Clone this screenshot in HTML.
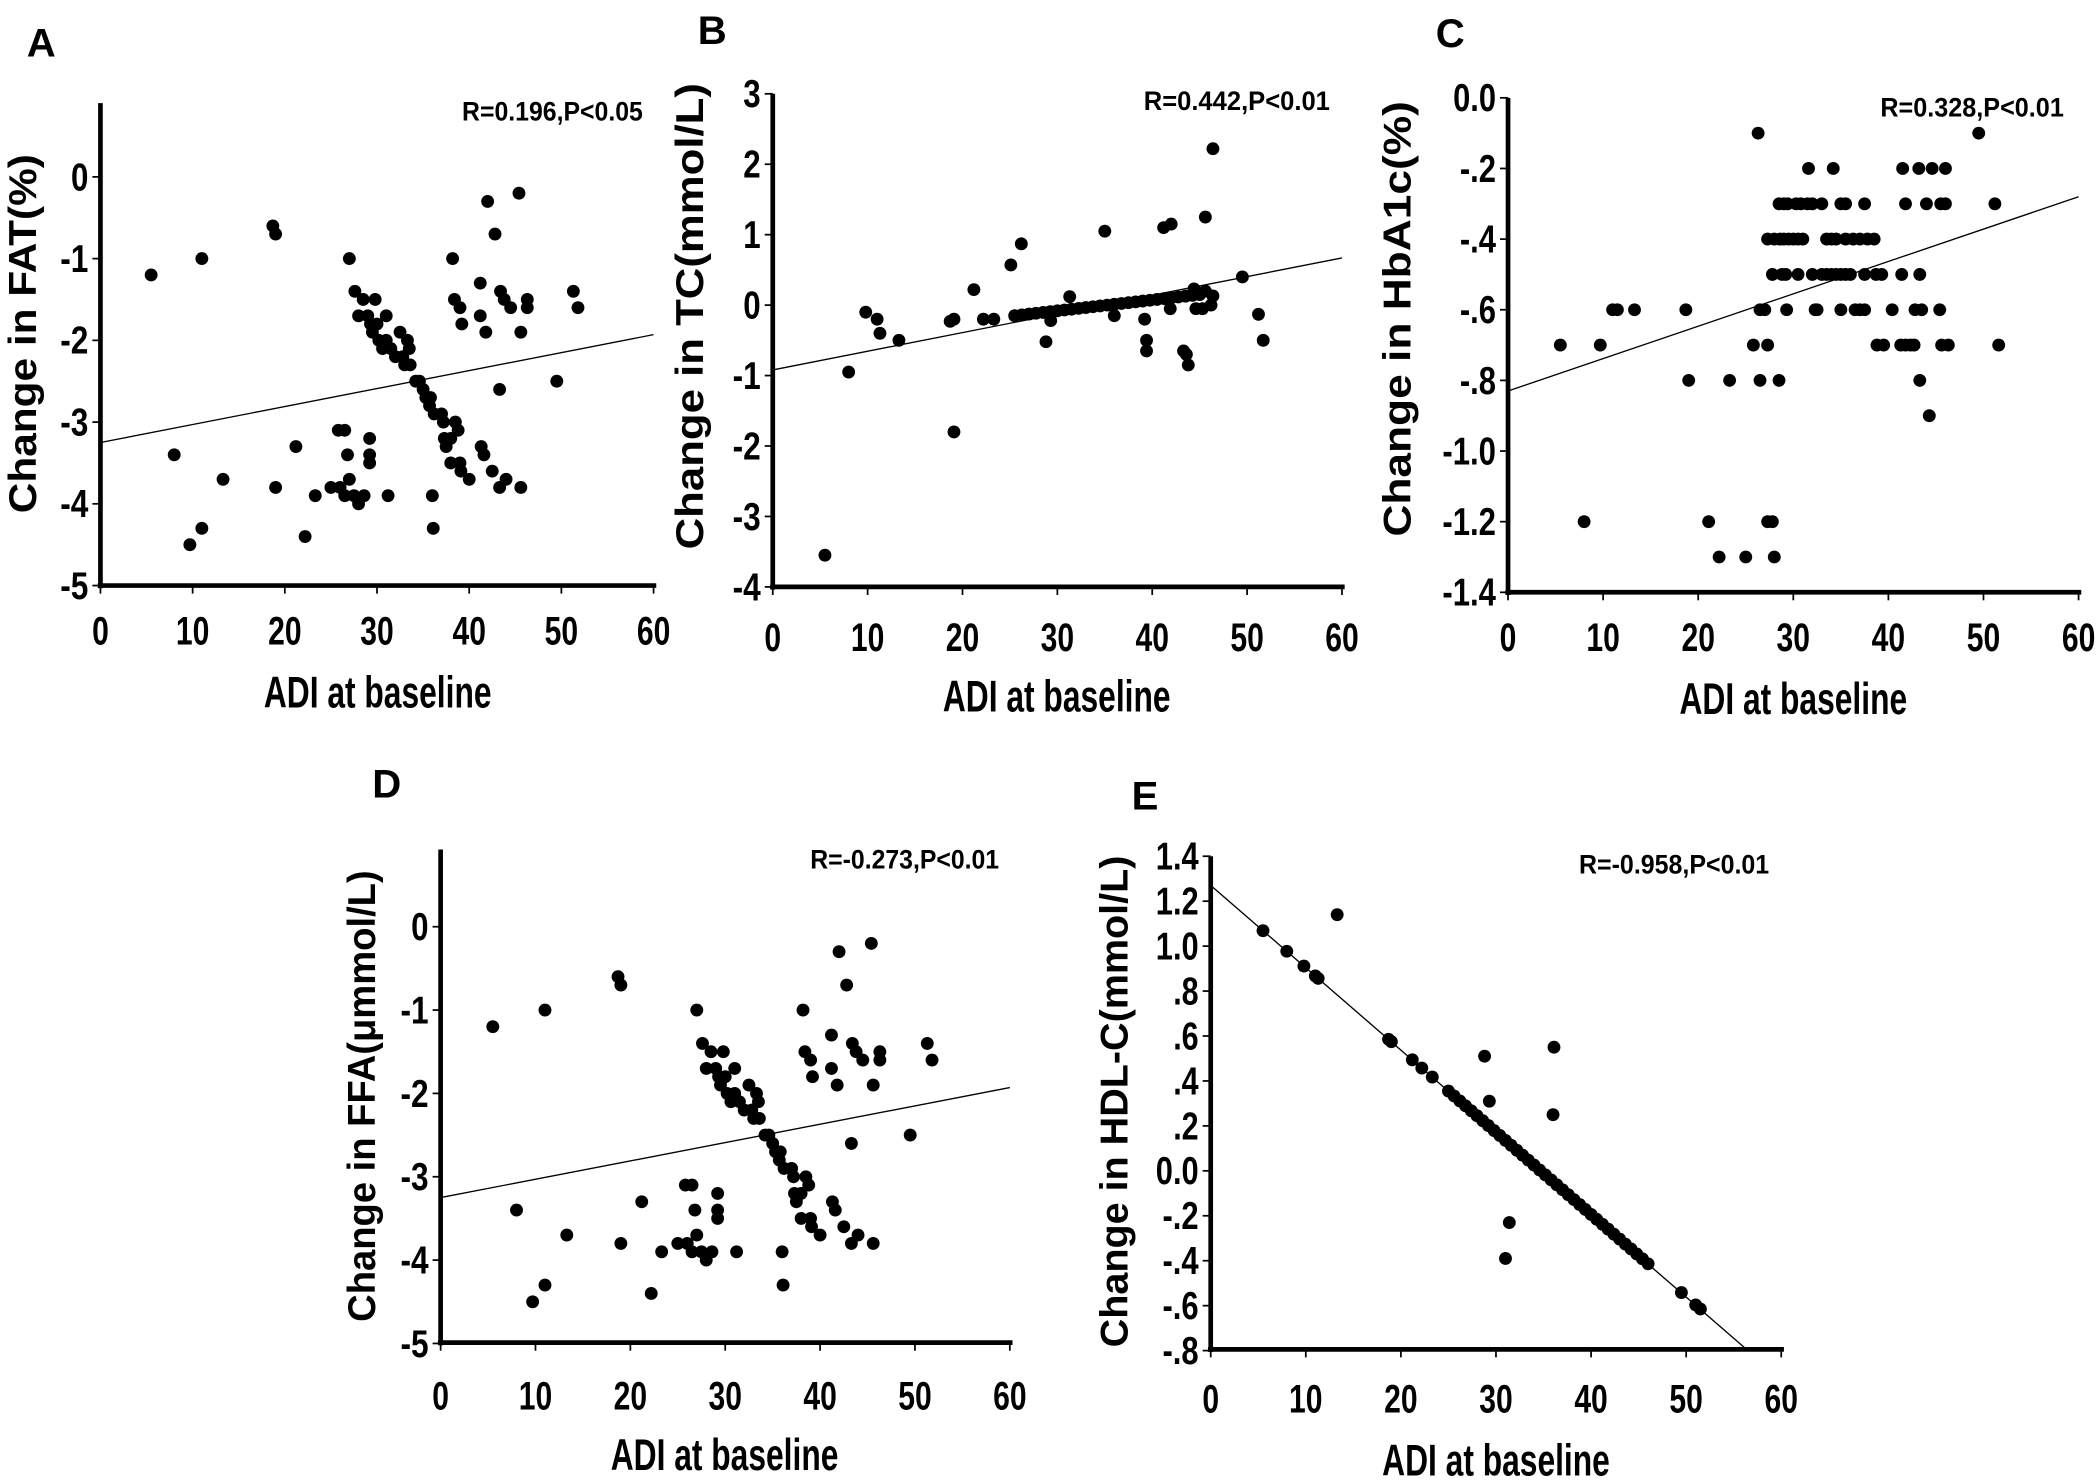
<!DOCTYPE html>
<html><head><meta charset="utf-8"><style>
html,body{margin:0;padding:0;background:#fff;}
svg{display:block;}
text{font-family:"Liberation Sans",Arial,sans-serif;font-weight:bold;fill:#000;}
</style></head><body>
<svg id="s" width="2100" height="1482" viewBox="0 0 1568 1106" preserveAspectRatio="none" xmlns="http://www.w3.org/2000/svg">
<rect width="1568" height="1106" fill="#fff"/>
<text x="20" y="42" font-size="30">A</text>
<text x="521" y="33" font-size="30">B</text>
<text x="1072" y="35" font-size="30">C</text>
<text x="278" y="595" font-size="30">D</text>
<text x="845" y="604" font-size="30">E</text>
</svg>
<script>
var NS="http://www.w3.org/2000/svg",S=document.getElementById('s');
function el(t,a,txt){var e=document.createElementNS(NS,t);for(var k in a)e.setAttribute(k,a[k]);if(txt!==undefined)e.textContent=txt;S.appendChild(e);return e;}
var A=[[5.5,-1.2],[11,-1],[18.7,-0.6],[19,-0.7],[27,-1],[8,-3.4],[13.3,-3.7],[11,-4.3],[9.7,-4.5],[19,-3.8],[21.2,-3.3],[22.2,-4.4],[23.3,-3.9],[25,-3.8],[25.8,-3.1],[26.5,-3.1],[26.8,-3.4],[26,-3.8],[26.5,-3.9],[27,-3.7],[27.5,-3.9],[28,-4],[28.6,-3.9],[29.2,-3.2],[29.2,-3.4],[29.2,-3.5],[31.2,-3.9],[36,-3.9],[36.1,-4.3],
[27.6,-1.4],[28,-1.7],[28.5,-1.5],[29,-1.7],[29.3,-1.8],[29.5,-1.9],[30,-1.8],[29.8,-1.5],[30.2,-2],[30.6,-2.1],[31,-1.7],[31,-2],[31.5,-2.1],[32,-2.2],[32.5,-1.9],[32.8,-2.2],[33,-2.3],[33.3,-2],[33.5,-2.1],[33.6,-2.3],[34.2,-2.5],[34.6,-2.5],[35,-2.6],[35.3,-2.7],[35.7,-2.8],[35.8,-2.7],[36.2,-2.9],[37,-2.9],[37.2,-3],[37.3,-3.2],[37.5,-3.3],[38,-3.2],[38.5,-3],[38.8,-3.1],[38,-3.5],[39,-3.5],[39.1,-3.6],[40,-3.7],[41.3,-3.3],[41.6,-3.4],[42.5,-3.6],[43.3,-3.8],[44,-3.7],[45.6,-3.8],
[38.2,-1],[38.4,-1.5],[39,-1.6],[39.2,-1.8],[41.2,-1.3],[41.2,-1.7],[41.8,-1.9],[42,-0.3],[42.8,-0.7],[43.4,-1.4],[43.8,-1.5],[44.5,-1.6],[45.4,-0.2],[45.6,-1.9],[46.3,-1.5],[46.3,-1.6],[49.5,-2.5],[43.3,-2.6],[51.3,-1.4],[51.8,-1.6]];
var B=[[5.5,-3.55],[8,-0.95],[9.8,-0.1],[11,-0.2],[11.3,-0.4],[13.3,-0.5],[18.7,-0.23],[19.1,-0.2],[19.1,-1.8],[21.2,0.22],[22.2,-0.2],[23.3,-0.2],[25.1,0.57],[26.2,0.87],[28.8,-0.52],[29.3,-0.22],[31.3,0.12],[35,1.05],[36,-0.15],[41.2,1.1],[42,1.15],[45.6,1.25],[46.4,2.22],[49.5,0.4],[51.2,-0.13],[51.7,-0.5],[39.2,-0.2],[39.4,-0.5],[39.4,-0.65],[43.3,-0.65],[43.6,-0.7],[43.8,-0.85],[41.9,-0.05],[44.6,-0.05],[45.3,-0.05],[46.2,0],[46.4,0.13],[44.4,0.23],[45.6,0.2]];
for(var x=25.5;x<=45;x+=0.75)B.push([x,-0.15+(x-25.5)*0.3/19.5]);
var C=[[26.3,-0.1],[49.5,-0.1]];
function row(y,xs){xs.forEach(function(x){C.push([x,y]);});}
row(-0.2,[31.6,34.2,41.5,43.2,44.6,46]);
row(-0.3,[28.5,29,29.4,30.3,30.8,31.5,32,33,35,35.5,37.5,41.8,44,45.5,46,51.2]);
row(-0.4,[27.3,28,28.6,29,29.5,30,30.5,31,33.5,34,34.5,35.5,36.3,37,37.8,38.5]);
row(-0.5,[27.8,28.8,29.2,30.5,32,33,33.5,34,34.5,35,35.5,36,37.5,38.7,39.3,41.4,43.3]);
row(-0.6,[11,11.5,13.3,18.7,26.5,27,29.3,32.3,32.5,35,36.5,37,37.5,40.4,42.8,43.5,45.4]);
row(-0.7,[5.5,9.7,25.8,27.3,38.8,39.5,41.3,41.8,42.3,42.7,45.6,46.3,51.6]);
row(-0.8,[19,23.3,26.5,28.5,43.3]);
row(-0.9,[44.3]);
row(-1.2,[8,21.1,27.3,27.8]);
row(-1.3,[22.2,25,28]);
var E=[[13.3,1.14],[28.8,0.51],[29.3,0.31],[36.1,0.55],[36,0.25],[31.4,-0.23],[31,-0.39]];
[5.5,8,9.8,11,11.3,18.7,19,21.2,22.2,23.3,49.5,51,51.5].forEach(function(x){E.push([x,1.27-0.0366*x]);});
for(var x=25;x<=46.5;x+=0.6)E.push([x,1.27-0.0366*x]);
var P=[
{d:A,x0:75,x60:488,yt:77,yb:437,ym:function(v){return 132-v*61;},ticks:[[0,'0'],[-1,'-1'],[-2,'-2'],[-3,'-3'],[-4,'-4'],[-5,'-5']],reg:[[0,-3.25],[60,-1.93]],
 R:'R=0.196,P<0.05',rx:345,ry:90,rl:135,yt1:'Change in FAT(%)',tx:27,tc:249,tl:268,xb:481,xt:528,xc:282},
{d:B,x0:577,x60:1002,yt:70,yb:438,ym:function(v){return 70+(3-v)*52.57;},ticks:[[3,'3'],[2,'2'],[1,'1'],[0,'0'],[-1,'-1'],[-2,'-2'],[-3,'-3'],[-4,'-4']],reg:[[0,-0.92],[60,0.67]],
 R:'R=0.442,P<0.01',rx:854,ry:82,rl:139,yt1:'Change in TC(mmol/L)',tx:525,tc:236,tl:348,xb:486,xt:531,xc:789},
{d:C,x0:1126,x60:1552,yt:73,yb:442,ym:function(v){return 73-v*263.6;},ticks:[[0,'0.0'],[-0.2,'-.2'],[-0.4,'-.4'],[-0.6,'-.6'],[-0.8,'-.8'],[-1,'-1.0'],[-1.2,'-1.2'],[-1.4,'-1.4']],reg:[[0,-0.83],[60,-0.28]],
 R:'R=0.328,P<0.01',rx:1404,ry:87,rl:137,yt1:'Change in HbA1c(%)',tx:1053,tc:238,tl:325,xb:486,xt:533,xc:1339},
{d:A,x0:329,x60:754,yt:634,yb:1002,ym:function(v){return 691.6-v*62.2;},ticks:[[0,'0'],[-1,'-1'],[-2,'-2'],[-3,'-3'],[-4,'-4'],[-5,'-5']],reg:[[0,-3.25],[60,-1.93]],
 R:'R=-0.273,P<0.01',rx:605,ry:648,rl:141,yt1:'Change in FFA(μmmol/L)',tx:280,tc:818,tl:337,xb:1052,xt:1097,xc:541},
{d:E,x0:904,x60:1330,yt:639,yb:1007,ym:function(v){return 639+(1.4-v)*167.7;},ticks:[[1.4,'1.4'],[1.2,'1.2'],[1.0,'1.0'],[0.8,'.8'],[0.6,'.6'],[0.4,'.4'],[0.2,'.2'],[0,'0.0'],[-0.2,'-.2'],[-0.4,'-.4'],[-0.6,'-.6'],[-0.8,'-.8']],reg:[[0,1.27],[56.5,-0.8]],
 R:'R=-0.958,P<0.01',rx:1179,ry:652,rl:142,yt1:'Change in HDL-C(mmol/L)',tx:842,tc:822,tl:367,xb:1054,xt:1101,xc:1117}
];
P.forEach(function(p){
 var xm=function(v){return p.x0+(p.x60-p.x0)*v/60;};
 el('line',{x1:xm(p.reg[0][0]),y1:p.ym(p.reg[0][1]),x2:xm(p.reg[1][0]),y2:p.ym(p.reg[1][1]),stroke:'#000','stroke-width':1});
 el('line',{x1:p.x0,y1:p.yt,x2:p.x0,y2:p.yb+2,stroke:'#000','stroke-width':3.5});
 el('line',{x1:p.x0-2,y1:p.yb,x2:p.x60+2,y2:p.yb,stroke:'#000','stroke-width':3.5});
 for(var i=0;i<=6;i++){var xx=xm(i*10);
  el('line',{x1:xx,y1:p.yb,x2:xx,y2:p.yb+6,stroke:'#000','stroke-width':1.3});
  var s=String(i*10);el('text',{x:xx,y:p.xb,'font-size':30,'text-anchor':'middle',textLength:s.length*12.5,lengthAdjust:'spacingAndGlyphs'},s);}
 p.ticks.forEach(function(t){var yy=p.ym(t[0]);
  el('line',{x1:p.x0-6,y1:yy,x2:p.x0,y2:yy,stroke:'#000','stroke-width':1.3});
  var s=t[1];var w=0;for(var k=0;k<s.length;k++)w+=(s[k]=='.'?6:(s[k]=='-'?8:13));
  el('text',{x:p.x0-9,y:yy+10,'font-size':29,'text-anchor':'end',textLength:w,lengthAdjust:'spacingAndGlyphs'},s);});
 p.d.forEach(function(q){el('circle',{cx:xm(q[0]),cy:p.ym(q[1]),r:4.8,fill:'#000'});});
 el('text',{x:p.rx,y:p.ry,'font-size':20,textLength:p.rl,lengthAdjust:'spacingAndGlyphs'},p.R);
 el('text',{x:p.xc,y:p.xt,'font-size':33,'text-anchor':'middle',textLength:170,lengthAdjust:'spacingAndGlyphs'},'ADI at baseline');
 el('text',{x:0,y:0,'font-size':29,'text-anchor':'middle',textLength:p.tl,lengthAdjust:'spacingAndGlyphs',transform:'translate('+p.tx+','+p.tc+') rotate(-90)'},p.yt1);
});
</script>
</body></html>
